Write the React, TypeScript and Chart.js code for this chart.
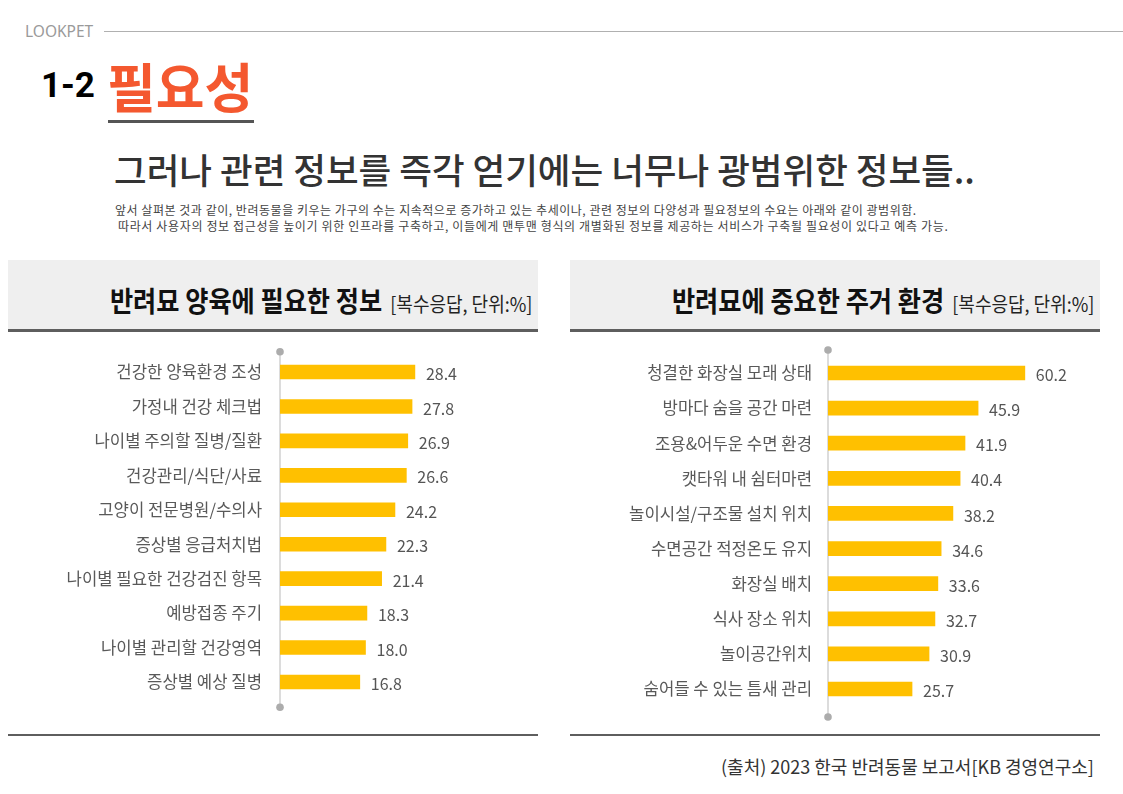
import React, { useEffect, useRef } from "react";
import { Chart, registerables } from "chart.js";

Chart.register(...registerables);

const infoLabels = [
  "건강한 양육환경 조성",
  "가정내 건강 체크법",
  "나이별 주의할 질병/질환",
  "건강관리/식단/사료",
  "고양이 전문병원/수의사",
  "증상별 응급처치법",
  "나이별 필요한 건강검진 항목",
  "예방접종 주기",
  "나이별 관리할 건강영역",
  "증상별 예상 질병",
];
const infoValues = [28.4, 27.8, 26.9, 26.6, 24.2, 22.3, 21.4, 18.3, 18.0, 16.8];

const homeLabels = [
  "청결한 화장실 모래 상태",
  "방마다 숨을 공간 마련",
  "조용&어두운 수면 환경",
  "캣타워 내 쉼터마련",
  "놀이시설/구조물 설치 위치",
  "수면공간 적정온도 유지",
  "화장실 배치",
  "식사 장소 위치",
  "놀이공간위치",
  "숨어들 수 있는 틈새 관리",
];
const homeValues = [60.2, 45.9, 41.9, 40.4, 38.2, 34.6, 33.6, 32.7, 30.9, 25.7];

const infoMax = 50;
const homeMax = 80;

const FONT = '"Noto Sans CJK KR", "Noto Sans", sans-serif';

type BarProps = {
  labels: string[];
  values: number[];
  max: number;
  left: number;
  top: number;
  width: number;
  height: number;
  axisWidth: number;
  tickPad: number;
  padTop: number;
  padBottom: number;
  padRight: number;
  extTop: number;
  extBottom: number;
};

function BarChart(p: BarProps) {
  const ref = useRef<HTMLCanvasElement>(null);
  useEffect(() => {
    if (!ref.current) return;
    const axisPlugin = {
      id: "axisDecor",
      beforeDatasetsDraw(chart: any) {
        const { ctx, chartArea } = chart;
        const x = chartArea.left;
        const y0 = chartArea.top - p.extTop;
        const y1 = chartArea.bottom + p.extBottom;
        ctx.save();
        ctx.strokeStyle = "#d0d0d0";
        ctx.lineWidth = 1.5;
        ctx.beginPath();
        ctx.moveTo(x, y0);
        ctx.lineTo(x, y1);
        ctx.stroke();
        ctx.fillStyle = "#acacac";
        ctx.beginPath();
        ctx.arc(x, y0, 3.8, 0, Math.PI * 2);
        ctx.fill();
        ctx.beginPath();
        ctx.arc(x, y1, 3.8, 0, Math.PI * 2);
        ctx.fill();
        ctx.restore();
      },
    };
    const valuePlugin = {
      id: "valueLabels",
      afterDatasetsDraw(chart: any) {
        const { ctx } = chart;
        const meta = chart.getDatasetMeta(0);
        ctx.save();
        ctx.font = `16px ${FONT}`;
        ctx.fillStyle = "#555555";
        ctx.textAlign = "left";
        ctx.textBaseline = "middle";
        meta.data.forEach((bar: any, i: number) => {
          ctx.fillText(p.values[i].toFixed(1), bar.x + 11, bar.y + 2);
        });
        ctx.restore();
      },
    };
    const chart = new Chart(ref.current, {
      type: "bar",
      data: {
        labels: p.labels,
        datasets: [
          {
            data: p.values,
            backgroundColor: "#FFC000",
            borderWidth: 0,
            barThickness: 14,
          },
        ],
      },
      options: {
        indexAxis: "y",
        responsive: false,
        maintainAspectRatio: false,
        animation: false,
        layout: {
          padding: { top: p.padTop, bottom: p.padBottom, right: p.padRight, left: 0 },
        },
        plugins: {
          legend: { display: false },
          tooltip: { enabled: false },
        },
        scales: {
          x: { display: false, min: 0, max: p.max },
          y: {
            grid: { display: false, drawTicks: false },
            border: { display: false },
            ticks: {
              font: { family: FONT, size: 16.7 },
              color: "#595959",
              padding: p.tickPad,
            },
            afterFit(scale: any) {
              scale.width = p.axisWidth;
              scale.paddingTop = 0;
              scale.paddingBottom = 0;
            },
          },
        },
      },
      plugins: [axisPlugin, valuePlugin],
    } as any);
    return () => chart.destroy();
  }, []);
  return (
    <canvas
      ref={ref}
      width={p.width}
      height={p.height}
      style={{ position: "absolute", left: p.left, top: p.top, width: p.width, height: p.height }}
    />
  );
}

function PanelHeader({ left, width, title }: { left: number; width: number; title: string }) {
  return (
    <>
      <div
        style={{
          position: "absolute",
          left,
          top: 260,
          width,
          height: 70,
          background: "#efefef",
        }}
      />
      <div
        style={{
          position: "absolute",
          left,
          top: 329,
          width,
          height: 2.5,
          background: "#5e5e5e",
        }}
      />
      <div
        style={{
          position: "absolute",
          right: 1123 - (left + width - 6),
          top: 281,
          height: 38,
          display: "flex",
          alignItems: "baseline",
          whiteSpace: "nowrap",
          transform: "scaleX(0.9)",
          transformOrigin: "right center",
          fontFamily: FONT,
          color: "#111",
        }}
      >
        <span style={{ fontSize: 28, fontWeight: 700, lineHeight: "38px" }}>{title}</span>
        <span style={{ fontSize: 20, fontWeight: 400, marginLeft: 9, color: "#222", lineHeight: "38px" }}>
          [복수응답, 단위:%]
        </span>
      </div>
      <div
        style={{
          position: "absolute",
          left,
          top: 734,
          width,
          height: 2,
          background: "#5e5e5e",
        }}
      />
    </>
  );
}

export default function App() {
  return (
    <div
      style={{
        position: "absolute",
        left: 0,
        top: 0,
        width: 1123,
        height: 794,
        background: "#ffffff",
        overflow: "hidden",
        fontFamily: FONT,
      }}
    >
      <div
        style={{
          position: "absolute",
          left: 25,
          top: 22,
          fontSize: 15.5,
          lineHeight: "18px",
          color: "#9a9a9a",
          fontFamily: '"Noto Sans", sans-serif',
        }}
      >
        LOOKPET
      </div>
      <div style={{ position: "absolute", left: 104, top: 31, width: 1019, height: 1, background: "#b0b0b0" }} />

      <div
        style={{
          position: "absolute",
          left: 41,
          top: 66,
          fontSize: 35,
          fontWeight: 700,
          lineHeight: "40px",
          color: "#000",
          fontFamily: "Roboto, sans-serif",
        }}
      >
        1-2
      </div>
      <div
        style={{
          position: "absolute",
          left: 107,
          top: 55,
          fontSize: 53,
          fontWeight: 700,
          lineHeight: "60px",
          color: "#F4582F",
          whiteSpace: "nowrap",
        }}
      >
        필요성
      </div>
      <div style={{ position: "absolute", left: 108, top: 119.5, width: 146, height: 3, background: "#555" }} />

      <div
        style={{
          position: "absolute",
          left: 114,
          top: 146,
          fontSize: 35.5,
          fontWeight: 500,
          lineHeight: "46px",
          color: "#333",
          whiteSpace: "nowrap",
        }}
      >
        그러나 관련 정보를 즉각 얻기에는 너무나 광범위한 정보들..
      </div>

      <div
        style={{
          position: "absolute",
          left: 115,
          top: 202,
          fontSize: 12,
          letterSpacing: 0.53,
          lineHeight: "16px",
          color: "#444",
          whiteSpace: "nowrap",
        }}
      >
        앞서 살펴본 것과 같이, 반려동물을 키우는 가구의 수는 지속적으로 증가하고 있는 추세이나, 관련 정보의 다양성과 필요정보의 수요는 아래와 같이 광범위함.
      </div>
      <div
        style={{
          position: "absolute",
          left: 118,
          top: 218,
          fontSize: 12,
          letterSpacing: 0.64,
          lineHeight: "16px",
          color: "#444",
          whiteSpace: "nowrap",
        }}
      >
        따라서 사용자의 정보 접근성을 높이기 위한 인프라를 구축하고, 이들에게 맨투맨 형식의 개별화된 정보를 제공하는 서비스가 구축될 필요성이 있다고 예측 가능.
      </div>

      <PanelHeader left={8} width={530} title="반려묘 양육에 필요한 정보" />
      <PanelHeader left={570} width={530} title="반려묘에 중요한 주거 환경" />

      <BarChart
        labels={infoLabels}
        values={infoValues}
        max={infoMax}
        left={40}
        top={340}
        width={480}
        height={380}
        axisWidth={240}
        tickPad={18}
        padTop={14.8}
        padBottom={20.8}
        padRight={2.5}
        extTop={3}
        extBottom={8}
      />
      <BarChart
        labels={homeLabels}
        values={homeValues}
        max={homeMax}
        left={590}
        top={340}
        width={500}
        height={385}
        axisWidth={238}
        tickPad={16}
        padTop={15.4}
        padBottom={18.4}
        padRight={0.4}
        extTop={5.4}
        extBottom={10.4}
      />

      <div
        style={{
          position: "absolute",
          left: 721,
          top: 754,
          fontSize: 18,
          lineHeight: "24px",
          color: "#333",
          whiteSpace: "nowrap",
        }}
      >
        (출처) 2023 한국 반려동물 보고서[KB 경영연구소]
      </div>
    </div>
  );
}
